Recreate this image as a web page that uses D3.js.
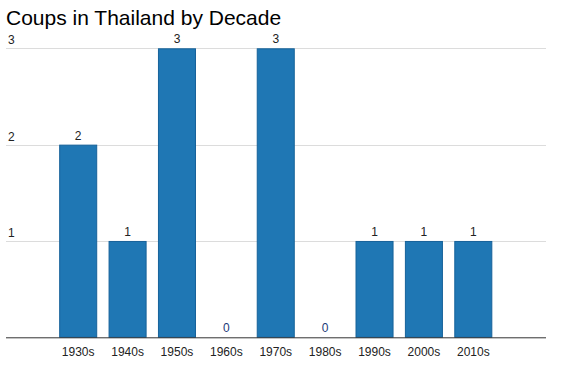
<!DOCTYPE html>
<html><head><meta charset="utf-8">
<script src="https://cdn.jsdelivr.net/npm/d3@7"></script>
<style>body{margin:0;background:#fff}svg{display:block}text{font-family:"Liberation Sans",Arial,Helvetica,sans-serif}</style>
</head><body>
<script>
const title = "Coups in Thailand by Decade";
const decades = ["1930s","1940s","1950s","1960s","1970s","1980s","1990s","2000s","2010s"];
const coups = [2,1,3,0,3,0,1,1,1];
const yTicks = [1,2,3];

(function(){
const W = 570, H = 365;
const svg = d3.select("body").append("svg").attr("width", W).attr("height", H);
const mLeft = 6, mRight = 546, mTop = 48.3, mBottom = 337.3;
const x = d3.scaleBand().domain(decades).range([53.5, 498]).paddingInner(0.23).paddingOuter(0.115);
const y = d3.scaleLinear().domain([0,3]).range([mBottom, mTop]);

svg.append("text").attr("x", 6).attr("y", 24.5).attr("font-size", 21).attr("fill", "#000").text(title);

const g = svg.append("g");
g.selectAll("line.grid").data(yTicks).join("line").attr("class","grid")
  .attr("x1", mLeft).attr("x2", mRight).attr("y1", d => Math.round(y(d))+0.5).attr("y2", d => Math.round(y(d))+0.5)
  .attr("stroke", "#dcdcdc").attr("stroke-width", 1);
g.selectAll("text.yt").data(yTicks).join("text").attr("class","yt")
  .attr("x", 8).attr("y", d => y(d) - 4).attr("font-size", 12).attr("fill", "#222").text(d => d);

g.selectAll("rect").data(coups).join("rect")
  .attr("x", (d,i) => x(decades[i]) + 0.5).attr("width", x.bandwidth() - 1)
  .attr("y", d => y(d) + 0.5).attr("height", d => Math.max(0, mBottom - y(d) - 0.5))
  .attr("fill", "#1f77b4").attr("stroke", "#16629a").attr("stroke-width", 1)
  .attr("display", d => d > 0 ? null : "none");

g.selectAll("text.val").data(coups).join("text").attr("class","val")
  .attr("x", (d,i) => x(decades[i]) + x.bandwidth()/2).attr("y", d => y(d) - 5)
  .attr("text-anchor","middle").attr("font-size", 12).attr("fill", d => d === 0 ? "#1c3a78" : "#222").text(d => d);

g.append("line").attr("x1", mLeft).attr("x2", mRight).attr("y1", mBottom+0.5).attr("y2", mBottom+0.5)
  .attr("stroke", "#333").attr("stroke-width", 1);

g.selectAll("text.xl").data(decades).join("text").attr("class","xl")
  .attr("x", d => x(d) + x.bandwidth()/2).attr("y", 356)
  .attr("text-anchor","middle").attr("font-size", 12).attr("fill", "#222").text(d => d);
})();
</script>
</body></html>
